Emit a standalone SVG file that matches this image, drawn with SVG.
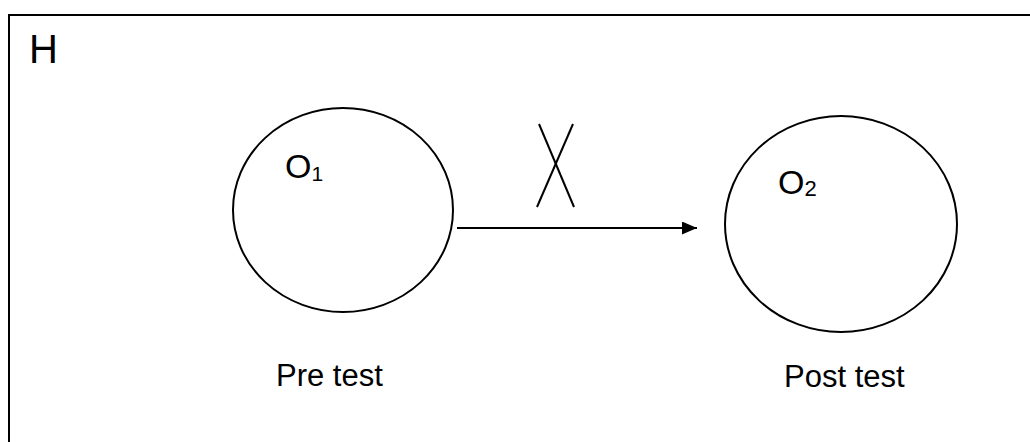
<svg xmlns="http://www.w3.org/2000/svg" width="1030" height="442" viewBox="0 0 1030 442">
<defs>
<style>
.ln{stroke:#000;stroke-width:2;fill:none}
.t{font-family:"Liberation Sans",Arial,sans-serif;fill:#000}
</style>
<marker id="ah" viewBox="0 0 15 13" refX="15" refY="6.5" markerWidth="15" markerHeight="13" orient="auto" markerUnits="userSpaceOnUse"><path d="M0,0 L15,6.5 L0,13 Z" fill="#000"/></marker>
</defs>
<rect width="1030" height="442" fill="#fff"/>
<rect id="frame" x="9" y="15" width="1040" height="450" class="ln"/>
<text class="t" x="29" y="63" font-size="40">H</text>
<g id="o1">
<ellipse cx="343" cy="210" rx="110" ry="102" class="ln"/>
<text class="t" x="285" y="178" font-size="34">O<tspan font-size="21" dy="3">1</tspan></text>
</g>
<g id="o2">
<ellipse cx="841" cy="224" rx="116" ry="108" class="ln"/>
<text class="t" x="778" y="194" font-size="34">O<tspan font-size="22" dy="2">2</tspan></text>
</g>
<g id="pre"><text class="t" x="276" y="386" font-size="31">Pre test</text></g>
<g id="post"><text class="t" x="784" y="387" font-size="31">Post test</text></g>
<g id="connectors">
<line x1="457" y1="228" x2="697" y2="228" class="ln" marker-end="url(#ah)"/>
<line x1="539" y1="124" x2="574" y2="207" class="ln"/>
<line x1="573" y1="124" x2="537" y2="207" class="ln"/>
</g>
</svg>
